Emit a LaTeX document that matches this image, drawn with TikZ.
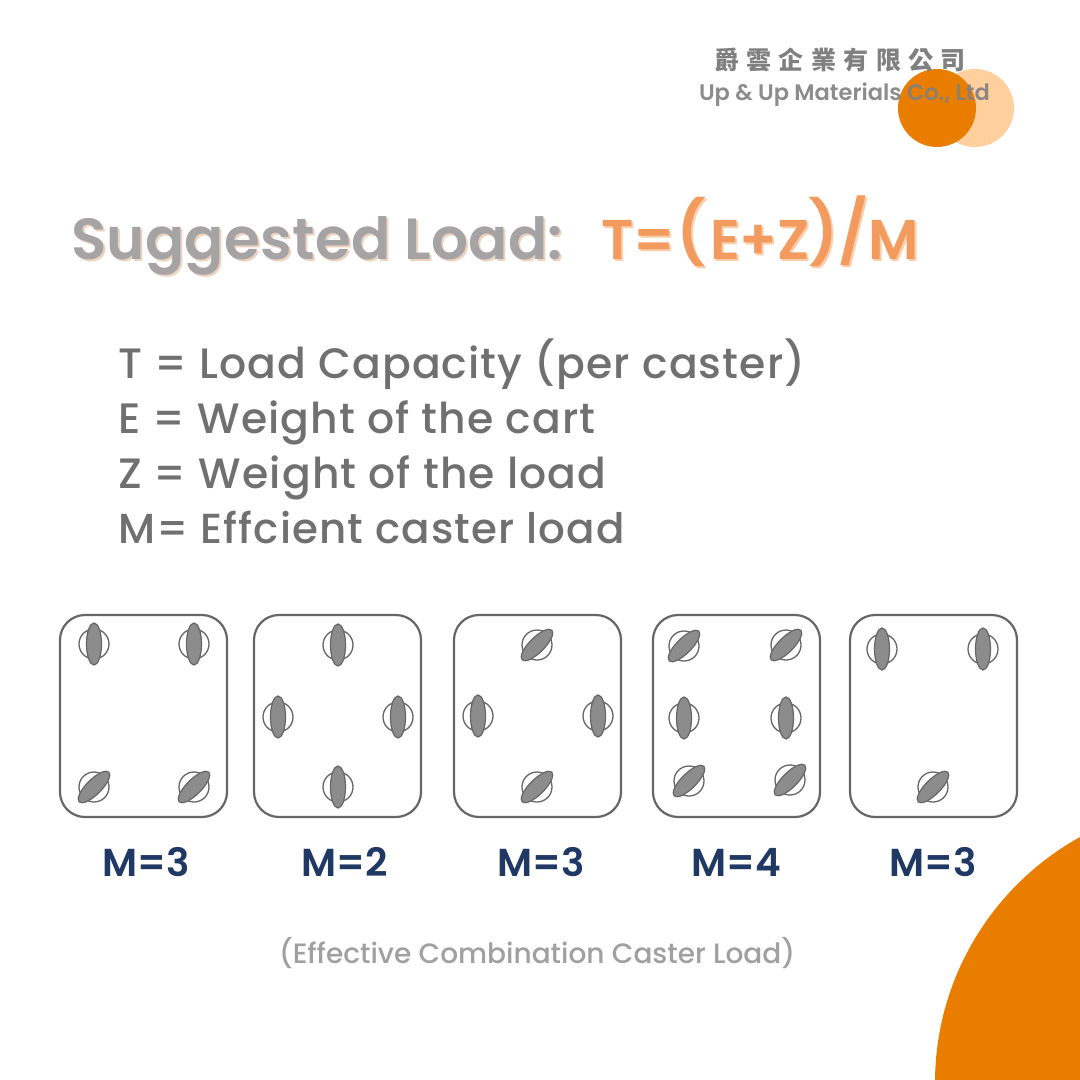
\documentclass[tikz,border=0pt]{standalone}
\usepackage{fontspec}
\setmainfont{Poppins}
\newfontfamily\pmed{Poppins Medium}
\newfontfamily\pmedsp{Poppins Medium}[LetterSpace=2.6]
\newfontfamily\psemi{Poppins SemiBold}
\newfontfamily\psemisp{Poppins SemiBold}[LetterSpace=0.45]
\newfontfamily\cjk{Noto Sans CJK TC}
\definecolor{orangemain}{HTML}{E87D00}
\definecolor{orangelight}{HTML}{FFCF9E}
\definecolor{titlegray}{HTML}{A5A3A3}
\definecolor{titleshadow}{HTML}{EBD3C0}
\definecolor{formula}{HTML}{F39A5F}
\definecolor{formulashadow}{HTML}{FBCDA8}
\definecolor{listgray}{HTML}{707070}
\definecolor{navy}{HTML}{1F3864}
\definecolor{capgray}{HTML}{A0A0A0}
\definecolor{logogray}{HTML}{808080}
\definecolor{linegray}{HTML}{666666}
\definecolor{wheelgray}{HTML}{8C8C8C}
\tikzset{
 txt/.style={inner sep=0pt,outer sep=0pt,anchor=base west},
 ctxt/.style={inner sep=0pt,outer sep=0pt,anchor=base},
 cart/.style={draw=linegray,line width=2.2pt,rounded corners=25pt},
 wheelring/.style={draw=linegray,line width=1.3pt},
 wheelbody/.style={draw=linegray,line width=1.2pt,fill=wheelgray},
 listline/.style={txt,text=listgray,font=\pmedsp\fontsize{42.5}{42.5}\selectfont},
 mlabel/.style={ctxt,text=navy,font=\psemi\fontsize{39}{39}\selectfont},
}
\newcommand{\stra}[2]{%
 \draw[wheelring] (#1,#2) circle (15);
 \draw[wheelbody] (#1,#2) ellipse (7.5 and 21);}
\newcommand{\tilt}[2]{%
 \draw[wheelring] (#1,#2) circle (15);
 \draw[wheelbody,rotate around={-45:(#1,#2)}] (#1,#2) ellipse (7.5 and 21);}
\newcommand{\shad}[6]{% x y font main shadow text
 \node[txt,text=#5,font=#3] at (#1+2,#2+2) {#6};
 \node[txt,text=#4,font=#3] at (#1,#2) {#6};}
\begin{document}
\begin{tikzpicture}[x=1pt,y=-1pt]
\useasboundingbox (0,0) rectangle (1080,1080);
\fill[white] (0,0) rectangle (1080,1080);
% corner disc
\begin{scope}
\clip (0,0) rectangle (1080,1080);
\fill[orangemain] (1216,1083) circle (281);
\end{scope}
% logo
\fill[orangelight] (975,108) circle (39);
\fill[orangemain] (937,108) circle (39);
\node[ctxt,text=logogray,font=\cjk\bfseries\fontsize{25}{25}\selectfont] (cn) at (840,69) {爵\hspace{7.4pt}雲\hspace{7.4pt}企\hspace{7.4pt}業\hspace{7.4pt}有\hspace{7.4pt}限\hspace{7.4pt}公\hspace{7.4pt}司};
\node[txt,text=logogray,text opacity=.9,font=\psemi\fontsize{22.5}{22.5}\selectfont] (en) at (699,100) {Up \& Up Materials Co., Ltd};
% title
\def\tf{\psemisp\fontsize{58}{58}\selectfont}
\def\ff{\psemi\fontsize{56}{56}\selectfont}
\def\pf{\psemi\fontsize{62}{62}\selectfont}
\shad{71}{259}{\tf}{titlegray}{titleshadow}{Suggested Load:}
\shad{601}{259}{\ff}{formula}{formulashadow}{T=}
\shad{676}{254}{\pf}{formula}{formulashadow}{(}
\shad{710}{259}{\ff}{formula}{formulashadow}{E+Z}
\shad{808}{254}{\pf}{formula}{formulashadow}{)}
\shad{838}{254}{\pf}{formula}{formulashadow}{/}
\shad{868}{259}{\ff}{formula}{formulashadow}{M}
% list
\node[listline] (l1) at (118,378) {T = Load Capacity (per caster)};
\node[listline] (l2) at (118,433) {E = Weight of the cart};
\node[listline] (l3) at (118,488) {Z = Weight of the load};
\node[listline,font=\pmedsp\fontsize{42}{42}\selectfont] (l4) at (118,543) {M= Effcient caster load};
% carts
\draw[cart] (60,615) rectangle (227,817);
\draw[cart] (254,615) rectangle (421,817);
\draw[cart] (454,615) rectangle (621,817);
\draw[cart] (653,615) rectangle (820,817);
\draw[cart] (850,615) rectangle (1017,817);
% casters
\stra{94}{644}\stra{194}{644}\tilt{94}{787}\tilt{194}{787}
\stra{338}{645}\stra{278}{717}\stra{398}{717}\stra{338}{787}
\tilt{537}{645}\stra{478}{716}\stra{598}{716}\tilt{537}{787}
\tilt{684}{646}\tilt{786}{645}\stra{684}{718}\stra{786}{718}\tilt{689}{781}\tilt{790}{780}
\stra{882}{649}\stra{983}{649}\tilt{933}{787}
% labels
\node[mlabel] (m1) at (146,876) {M=3};
\node[mlabel] (m2) at (345,876) {M=2};
\node[mlabel] (m3) at (541,876) {M=3};
\node[mlabel] (m4) at (736,876) {M=4};
\node[mlabel] (m5) at (933,876) {M=3};
\node[txt,text=capgray,font=\pmed\fontsize{28}{28}\selectfont] (cap) at (279,963) {(Effective Combination Caster Load)};
\end{tikzpicture}
\end{document}
